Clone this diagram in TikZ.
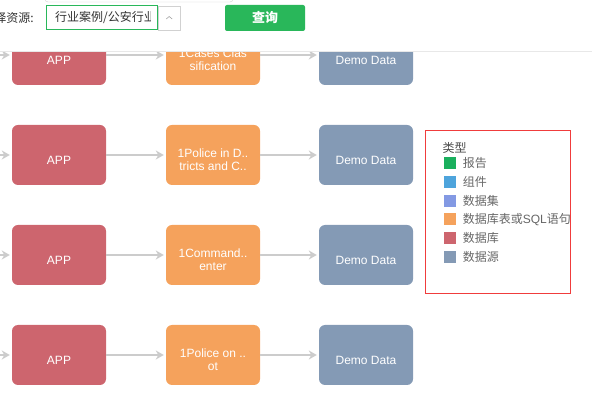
\documentclass[tikz,border=0pt]{standalone}
\usepackage{fontspec}
\setmainfont{Liberation Sans}
\newfontfamily\cjk{Noto Sans CJK SC}
\usetikzlibrary{arrows.meta,positioning}
\definecolor{appred}{RGB}{205,101,110}
\definecolor{tblorange}{RGB}{245,162,92}
\definecolor{srcslate}{RGB}{132,154,181}
\definecolor{rptgreen}{RGB}{26,175,93}
\definecolor{cmpblue}{RGB}{78,164,220}
\definecolor{setlilac}{RGB}{131,153,227}
\definecolor{btngreen}{RGB}{41,183,90}
\definecolor{linkgray}{RGB}{204,204,204}
\definecolor{legendred}{RGB}{240,60,60}

\begin{document}
\begin{tikzpicture}[x=1pt,y=-1pt,
        boxnode/.style={rounded corners=6pt,minimum width=94pt,minimum height=60pt,inner sep=0pt},
        appbox/.style={boxnode,fill=appred},
        tblbox/.style={boxnode,fill=tblorange},
        srcbox/.style={boxnode,fill=srcslate},
        boxtxt/.style={text=white,align=center,inner sep=0pt,yshift=-5pt,
                       font=\fontsize{12}{13}\selectfont},
        link/.style={draw=linkgray,line width=2pt,
                     -{Stealth[length=8pt,width=9pt,inset=2.5pt]},shorten >=2pt},
        swatch/.style={minimum size=12pt,inner sep=0pt},
        legtxt/.style={text=black!60,inner sep=0pt,anchor=west,font=\fontsize{12}{14}\selectfont}]
        \useasboundingbox (0,0) rectangle (592,419);

        % rows
        \node[appbox,label={[boxtxt]center:APP}] (app1) at (59,55) {};
        \node[tblbox,label={[boxtxt]center:{1Cases Clas\\sification}}] (tbl1) at (213,55) {};
        \node[srcbox,label={[boxtxt]center:Demo Data}] (src1) at (366,55) {};
        \node[appbox,label={[boxtxt]center:APP}] (app2) at (59,155) {};
        \node[tblbox,label={[boxtxt]center:{1Police in D..\\tricts and C..}}] (tbl2) at (213,155) {};
        \node[srcbox,label={[boxtxt]center:Demo Data}] (src2) at (366,155) {};
        \node[appbox,label={[boxtxt]center:APP}] (app3) at (59,255) {};
        \node[tblbox,label={[boxtxt]center:{1Command..\\enter}}] (tbl3) at (213,255) {};
        \node[srcbox,label={[boxtxt]center:Demo Data}] (src3) at (366,255) {};
        \node[appbox,label={[boxtxt]center:APP}] (app4) at (59,355) {};
        \node[tblbox,label={[boxtxt]center:{1Police on ..\\ot}}] (tbl4) at (213,355) {};
        \node[srcbox,label={[boxtxt]center:Demo Data}] (src4) at (366,355) {};
        \coordinate (in1) at (-10,55); \coordinate (in2) at (-10,155);
        \coordinate (in3) at (-10,255); \coordinate (in4) at (-10,355);
        \draw[link] (in1)--(app1); \draw[link] (app1)--(tbl1); \draw[link] (tbl1)--(src1);
        \draw[link] (in2)--(app2); \draw[link] (app2)--(tbl2); \draw[link] (tbl2)--(src2);
        \draw[link] (in3)--(app3); \draw[link] (app3)--(tbl3); \draw[link] (tbl3)--(src3);
        \draw[link] (in4)--(app4); \draw[link] (app4)--(tbl4); \draw[link] (tbl4)--(src4);

        % header bar
        \fill[white] (0,0) rectangle (592,51);
        \draw[black!9] (0,51.5)--(592,51.5);
        \draw[black!18,rounded corners=3pt] (45,-6)--(45,2)--(233,2)--(233,-6);
        \node[anchor=east,inner sep=0pt,text=black!80,font=\fontsize{12}{14}\selectfont\cjk]
              (srclbl) at (34,18) {选择资源:};
        \node[draw=btngreen,line width=1pt,minimum width=111pt,minimum height=24pt,
              inner sep=0pt] (sel) at (102,18) {};
        \begin{scope}
          \clip (47,7) rectangle (150,29);
          \node[anchor=west,inner sep=0pt,text=black!80,font=\fontsize{12}{14}\selectfont\cjk]
                (seltxt) at (55,18) {行业案例/公安行业};
        \end{scope}
        \node[draw=black!18,minimum width=22pt,minimum height=24pt,inner sep=0pt,
              anchor=west] (drop) at (sel.east) {};
        \draw[black!35,line width=0.6pt] ([xshift=-3pt,yshift=-1pt]drop.center)
              --([yshift=1.5pt]drop.center)--([xshift=3pt,yshift=-1pt]drop.center);
        \node[fill=btngreen,rounded corners=2pt,minimum width=80pt,minimum height=26pt,
              inner sep=0pt,text=white,font=\fontsize{13}{14}\selectfont\cjk\bfseries]
              (query) at (265,18) {查询};

        % legend
        \draw[legendred] (425.5,130.5) rectangle (570.5,293.5);
        \node[legtxt,text=black!70] (legtitle) at (442.5,148) {\cjk 类型};
        \node[swatch,fill=rptgreen] (sw1) at (450,163.3) {};
        \node[legtxt,right=6.5pt of sw1] (lg1) {\cjk 报告};
        \node[swatch,fill=cmpblue] (sw2) at (450,182) {};
        \node[legtxt,right=6.5pt of sw2] (lg2) {\cjk 组件};
        \node[swatch,fill=setlilac] (sw3) at (450,200.7) {};
        \node[legtxt,right=6.5pt of sw3] (lg3) {\cjk 数据集};
        \node[swatch,fill=tblorange] (sw4) at (450,219.4) {};
        \node[legtxt,right=6.5pt of sw4] (lg4) {{\cjk 数据库表或}SQL{\cjk 语句}};
        \node[swatch,fill=appred] (sw5) at (450,238.1) {};
        \node[legtxt,right=6.5pt of sw5] (lg5) {\cjk 数据库};
        \node[swatch,fill=srcslate] (sw6) at (450,256.8) {};
        \node[legtxt,right=6.5pt of sw6] (lg6) {\cjk 数据源};
      \end{tikzpicture}
\end{document}
